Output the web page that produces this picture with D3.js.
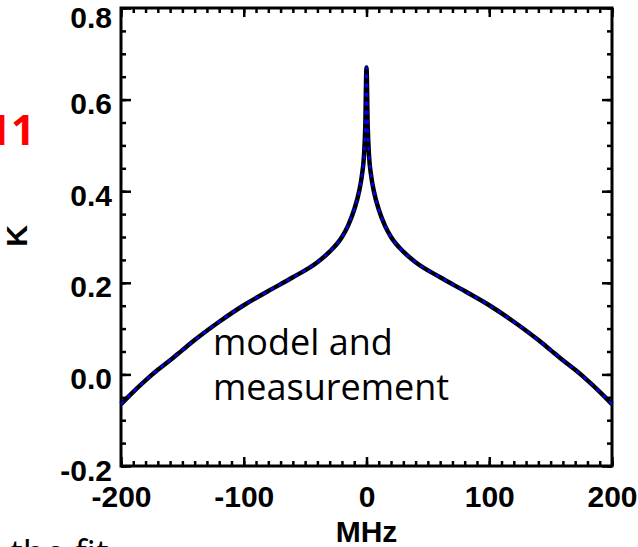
<!DOCTYPE html>
<html>
<head>
<meta charset="utf-8">
<script src="https://cdn.jsdelivr.net/npm/d3@7"></script>
<style>
    body { margin: 0; background: #fff; }
    svg { display: block; }
    .tick text { font-family: "Liberation Sans", Arial, sans-serif; font-weight: bold; font-size: 30px; fill: #000; }
</style>
</head>
<body>
<div id="chart"></div>
<script>
// frequency offset (MHz) and K (curve is symmetric)
const freqMHz = [-200, -190, -180, -170, -160, -150, -140, -120, -100, -80, -60, -40, -30, -20, -15, -10, -6, -4, -2, -1, 0,
                 1, 2, 4, 6, 10, 15, 20, 30, 40, 60, 80, 100, 120, 140, 150, 160, 170, 180, 190, 200];
const kMeasured = [-0.065, -0.038, -0.013, 0.01, 0.031, 0.053, 0.075, 0.115, 0.151, 0.182, 0.212, 0.245, 0.268, 0.3, 0.325, 0.36, 0.4, 0.43, 0.48, 0.54, 0.67,
                   0.54, 0.48, 0.43, 0.4, 0.36, 0.325, 0.3, 0.268, 0.245, 0.212, 0.182, 0.151, 0.115, 0.075, 0.053, 0.031, 0.01, -0.013, -0.038, -0.065];
const kModel = kMeasured.slice();

const xTicks = [-200, -100, 0, 100, 200];
const yTicks = [-0.2, 0.0, 0.2, 0.4, 0.6, 0.8];
const xMinor = d3.range(-200, 201, 10);
const yMinor = d3.range(-0.2, 0.801, 0.05);

const width = 638;
const height = 547;
const margin = { left: 121, right: 26, top: 8, bottom: 81 };

const svg = d3.select('#chart')
    .append('svg')
    .attr('width', width)
    .attr('height', height);

const x = d3.scaleLinear()
    .domain([-200, 200])
    .range([margin.left, width - margin.right]);

const y = d3.scaleLinear()
    .domain([-0.2, 0.8])
    .range([height - margin.bottom, margin.top]);

// plain hyphen for negatives, like the original plot
const fmtX = d => String(d);
const fmtY = d => d.toFixed(1);

function addAxis(axis, transform) {
    const g = svg.append('g')
        .attr('transform', transform)
        .call(axis);
    g.select('.domain').remove();
    g.selectAll('.tick line').attr('stroke', '#000').attr('stroke-width', 2.5);
    return g;
}

const xAxisY = height - margin.bottom;
const topY = margin.top;
const yAxisX = margin.left;
const rightX = width - margin.right;

// major ticks, inward on all four sides
addAxis(d3.axisBottom(x).tickValues(xTicks).tickSize(-9).tickSizeOuter(0).tickPadding(20).tickFormat(fmtX), `translate(0,${xAxisY})`);
addAxis(d3.axisTop(x).tickValues(xTicks).tickSize(-9).tickSizeOuter(0).tickFormat(''), `translate(0,${topY})`);
const yAxisG = addAxis(d3.axisLeft(y).tickValues(yTicks).tickSize(-10).tickSizeOuter(0).tickPadding(9).tickFormat(fmtY), `translate(${yAxisX},0)`);
addAxis(d3.axisRight(y).tickValues(yTicks).tickSize(-10).tickSizeOuter(0).tickFormat(''), `translate(${rightX},0)`);

yAxisG.selectAll('.tick text').attr('dy', '0.47em');
// top label is pushed down so it stays inside the picture
yAxisG.selectAll('.tick text').filter(d => d === 0.8).attr('dy', '0.64em');

// minor ticks
addAxis(d3.axisBottom(x).tickValues(xMinor).tickSize(-5).tickSizeOuter(0).tickFormat(''), `translate(0,${xAxisY})`);
addAxis(d3.axisTop(x).tickValues(xMinor).tickSize(-5).tickSizeOuter(0).tickFormat(''), `translate(0,${topY})`);
addAxis(d3.axisLeft(y).tickValues(yMinor).tickSize(-5).tickSizeOuter(0).tickFormat(''), `translate(${yAxisX},0)`);
addAxis(d3.axisRight(y).tickValues(yMinor).tickSize(-5).tickSizeOuter(0).tickFormat(''), `translate(${rightX},0)`);

// frame
svg.append('rect')
    .attr('x', yAxisX)
    .attr('y', topY)
    .attr('width', rightX - yAxisX)
    .attr('height', xAxisY - topY)
    .attr('fill', 'none')
    .attr('stroke', '#000')
    .attr('stroke-width', 3);

// curves: measurement black, model blue dashed on top
const line = d3.line()
    .x((d, i) => x(freqMHz[i]))
    .y(d => y(d))
    .curve(d3.curveMonotoneX);

svg.append('path')
    .datum(kMeasured)
    .attr('d', line)
    .attr('fill', 'none')
    .attr('stroke', '#000')
    .attr('stroke-width', 4.5)
    .attr('stroke-linejoin', 'round');

svg.append('path')
    .datum(kModel)
    .attr('d', line)
    .attr('fill', 'none')
    .attr('stroke', '#0000ff')
    .attr('stroke-width', 2.5)
    .attr('stroke-dasharray', '4,5');

// axis titles
svg.append('text')
    .attr('x', x(0))
    .attr('y', 542)
    .attr('text-anchor', 'middle')
    .style('font-family', '"Liberation Sans", Arial, sans-serif')
    .style('font-weight', 'bold')
    .style('font-size', '30px')
    .text('MHz');

svg.append('text')
    .attr('transform', 'translate(27,236) rotate(-90)')
    .attr('text-anchor', 'middle')
    .style('font-family', '"Liberation Sans", Arial, sans-serif')
    .style('font-weight', 'bold')
    .style('font-size', '30px')
    .text('K');

// annotation and slide fragments
const note = svg.append('text')
    .style('font-family', '"Open Sans", sans-serif')
    .style('font-size', '36px')
    .attr('fill', '#000');
note.append('tspan').attr('x', 213).attr('y', 355).text('model and');
note.append('tspan').attr('x', 213).attr('y', 400).text('measurement');

svg.append('text')
    .attr('x', 35)
    .attr('y', 145)
    .attr('text-anchor', 'end')
    .attr('fill', '#ff0000')
    .style('font-family', '"Open Sans", sans-serif')
    .style('font-weight', 'bold')
    .style('font-size', '42px')
    .text('11');

svg.append('text')
    .attr('x', 10)
    .attr('y', 566)
    .style('font-family', '"Open Sans", sans-serif')
    .style('font-size', '36px')
    .text('the fit');
</script>
</body>
</html>
